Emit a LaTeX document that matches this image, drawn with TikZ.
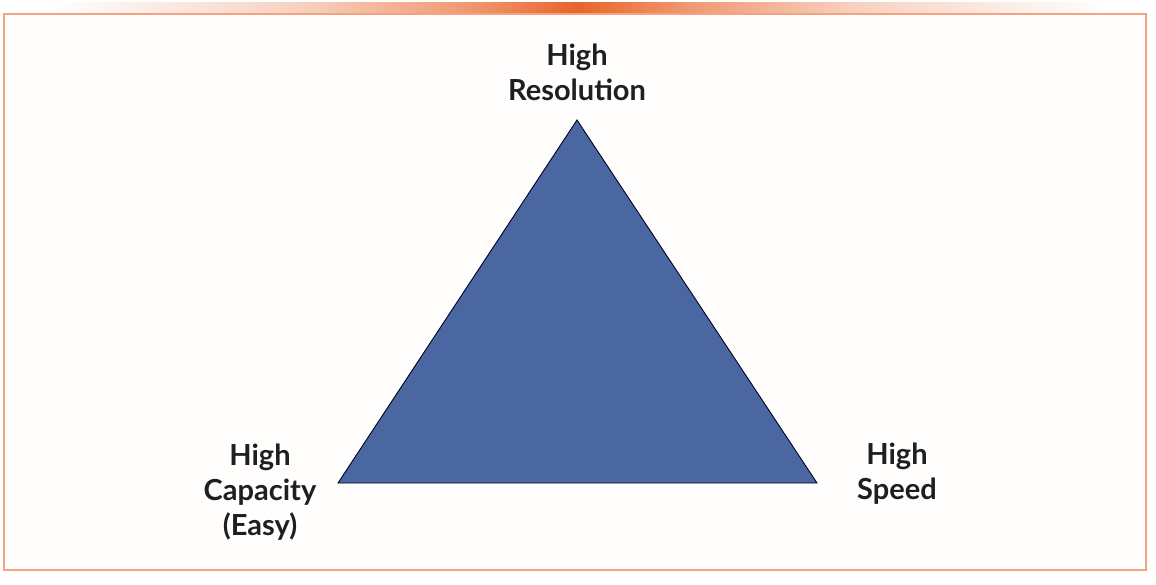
\documentclass[tikz,border=0pt]{standalone}
\usepackage{fontspec}
\setmainfont{Lato}
\usepackage{xcolor}
\usetikzlibrary{positioning}

\definecolor{frameorange}{HTML}{F2A482}
\definecolor{barorange}{HTML}{E8652A}
\definecolor{tribody}{HTML}{4A67A1}
\definecolor{paper}{HTML}{FFFEFC}

\pgfdeclarehorizontalshading{topbar}{100bp}{
  color(0bp)=(white); color(27bp)=(white); color(38bp)=(barorange!30);
  color(45bp)=(barorange!65); color(50bp)=(barorange); color(55bp)=(barorange!65);
  color(62bp)=(barorange!30); color(73bp)=(white); color(100bp)=(white)}

\begin{document}
\begin{tikzpicture}[x=1pt, y=-1pt,
  corner/.style={font=\fontsize{29}{35}\selectfont\bfseries, align=center, text=black!88},
  frame/.style={draw=frameorange, line width=1.2pt, fill=paper},
  wedge/.style={draw=black!85!blue, line width=0.9pt, fill=tribody, line join=miter}
]
  \useasboundingbox (0,0) rectangle (1156,584);
  \fill[white] (0,0) rectangle (1156,584);

  % top bar and frame
  \shade[shading=topbar] (0,2) rectangle (1156,13);
  \draw[frame] (4,14) rectangle (1146,570);

  % triangle
  \coordinate (apex)  at (577,120);
  \coordinate (left)  at (338,483);
  \coordinate (right) at (817,483);
  \filldraw[wedge] (apex) -- (right) -- (left) -- cycle;

  % corner labels
  \node[corner] (res) at (577,72)  {High\\Resolution};
  \node[corner] (cap) at (260,492) {High\\Capacity\\(Easy)};
  \node[corner] (spd) at (897,474) {High\\Speed};
\end{tikzpicture}
\end{document}
